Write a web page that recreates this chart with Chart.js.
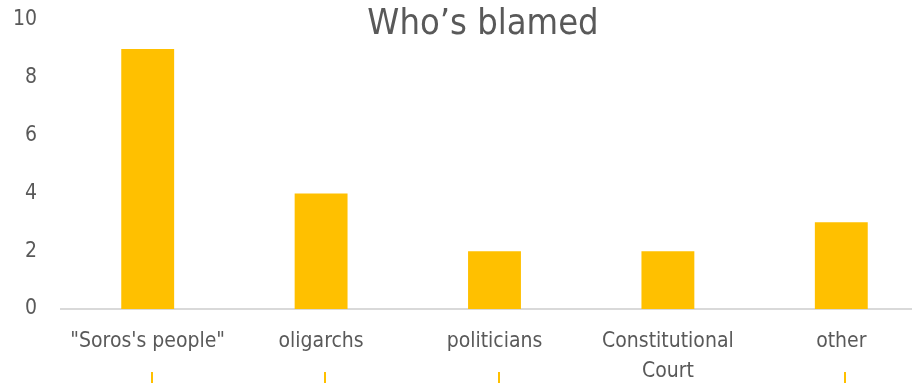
<!DOCTYPE html>
<html>
<head>
<meta charset="utf-8">
<script src="https://cdn.jsdelivr.net/npm/chart.js@4"></script>
<style>
  html, body { margin: 0; padding: 0; background: #fff; overflow: hidden; }
  #wrap { width: 929px; height: 383px; position: relative; }
</style>
</head>
<body>
<div id="wrap"><canvas id="blamed"></canvas></div>
<script>
// Who's blamed — counts per category
const categories = ['"Soros\'s people"', 'oligarchs', 'politicians', ['Constitutional', 'Court'], 'other'];
const counts = [9, 4, 2, 2, 3];
const yTicks = [0, 2, 4, 6, 8, 10];
const chartTitle = 'Who\u2019s blamed';

const FONT = '"Liberation Sans Narrow", "DejaVu Sans Condensed", "Noto Sans", sans-serif';
const GREY = '#595959';
const BAR = '#FFC000';

// title sits inside the plot area, so draw it by hand
const titlePlugin = {
    id: 'overTitle',
    afterDraw(chart) {
        const c = chart.ctx;
        c.save();
        c.font = '36px ' + FONT;
        c.fillStyle = GREY;
        c.textAlign = 'center';
        c.textBaseline = 'middle';
        c.fillText(chartTitle, 483, 25);
        c.restore();
    }
};

// the clipped yellow stubs along the bottom edge of the original
const stubPlugin = {
    id: 'stubs',
    beforeDraw(chart) {
        const c = chart.ctx, x = chart.scales.x;
        c.save();
        c.strokeStyle = BAR;
        c.lineWidth = 2;
        counts.forEach((v, i) => {
            if (i === 3) return;
            const px = Math.round(x.getPixelForValue(i)) + 4;
            c.beginPath();
            c.moveTo(px, 372);
            c.lineTo(px, 383);
            c.stroke();
        });
        c.restore();
    }
};

new Chart(document.getElementById('blamed'), {
    type: 'bar',
    data: {
        labels: categories,
        datasets: [{
            data: counts,
            backgroundColor: BAR,
            barPercentage: 0.305,
            categoryPercentage: 1
        }]
    },
    options: {
        responsive: true, maintainAspectRatio: false,
        animation: false,
        layout: { padding: { top: 0, left: 0, right: 1, bottom: 0 } },
        plugins: { legend: { display: false }, tooltip: { enabled: false } },
        scales: {
            x: {
                grid: { display: false },
                border: { display: true, color: '#d9d9d9', width: 2 },
                ticks: { color: GREY, font: { family: FONT, size: 21, lineHeight: 1.45 }, padding: 9, maxRotation: 0 },
                afterFit(s) { s.height = 74; }
            },
            y: {
                min: 0, max: 10,
                afterBuildTicks(s) { s.ticks = yTicks.map(v => ({ value: v })); },
                grid: { display: false, drawTicks: false },
                border: { display: false },
                ticks: { color: GREY, font: { family: FONT, size: 21 }, padding: 24 },
                afterFit(s) { s.width = 61; s.paddingTop = 20; s.paddingBottom = 0; }
            }
        }
    },
    plugins: [titlePlugin, stubPlugin]
});
</script>
</body>
</html>
